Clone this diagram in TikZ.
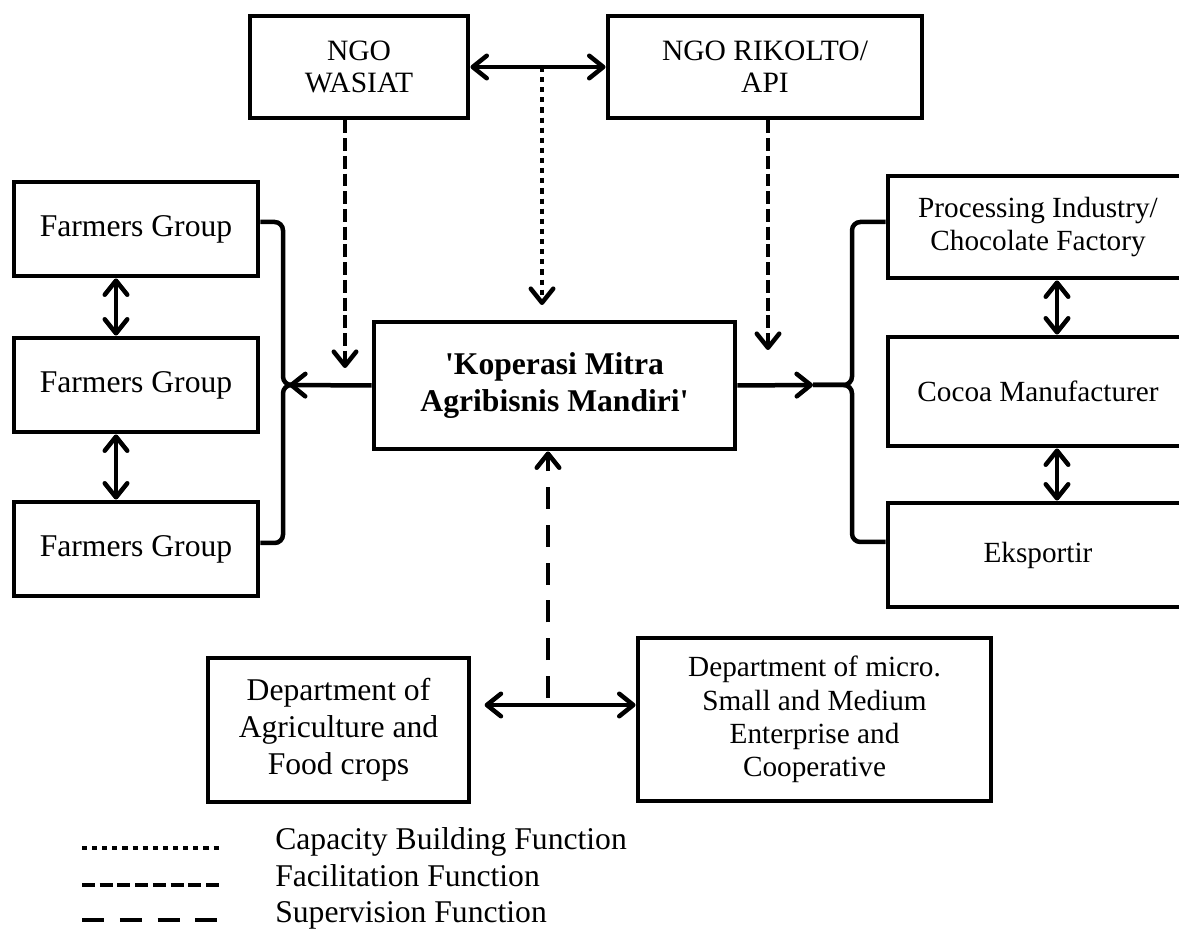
\documentclass[tikz,border=0pt]{standalone}
\usepackage{fontspec}
\setmainfont{Liberation Serif}[Ligatures=TeXOff]
\usetikzlibrary{arrows.meta,calc,positioning}
\newcommand{\bigtext}{\fontsize{22.5pt}{26.3pt}\selectfont}
\newcommand{\midtext}{\fontsize{21pt}{22.5pt}\selectfont}
\newcommand{\smalltext}{\fontsize{20.8pt}{24pt}\selectfont}
\tikzset{
  orgbox/.style={draw, line width=3.4pt, align=center, inner sep=0pt, font=\bigtext},
  ngobox/.style={orgbox, font=\midtext},
  sidebox/.style={orgbox, font=\smalltext},
  mainbox/.style={orgbox, font=\bigtext\bfseries},
  barb/.tip={Straight Barb[length=10pt, width=16pt, round]},
  link/.style={line width=3.2pt, -barb},
  bothlink/.style={line width=3.2pt, barb-barb},
  bracket/.style={line width=3.2pt, rounded corners=6pt},
  capacity/.style={dash pattern=on 3.6pt off 3.6pt},
  facilitation/.style={dash pattern=on 9.2pt off 3.4pt},
  supervision/.style={dash pattern=on 15.6pt off 11.3pt},
  legendtext/.style={font=\bigtext, inner sep=0pt, anchor=base west}
}
\begin{document}
\begin{tikzpicture}[x=0.025cm, y=-0.025cm]
  \useasboundingbox (0,0) rectangle (1179,931);
  % NGOs
  \node[ngobox, minimum width=5.45cm, minimum height=2.55cm] (wasiat) at (359,67) {NGO\\WASIAT};
  \node[ngobox, minimum width=7.85cm, minimum height=2.55cm] (rikolto) at (765,67) {NGO RIKOLTO/\\API};
  % cooperative
  \node[mainbox, minimum width=9.025cm, minimum height=3.175cm] (kmam) at (554.5,385.5) {'Koperasi Mitra\\Agribisnis Mandiri'};
  % farmers groups
  \node[orgbox, minimum width=6.1cm, minimum height=2.35cm] (fg1) at (136,229) {Farmers Group};
  \node[orgbox, minimum width=6.1cm, minimum height=2.35cm] (fg2) at (136,385) {Farmers Group};
  \node[orgbox, minimum width=6.1cm, minimum height=2.35cm] (fg3) at (136,549) {Farmers Group};
  % buyers
  \node[sidebox, minimum width=7.5cm, minimum height=2.55cm] (pi) at (1038,227) {Processing Industry/\\Chocolate Factory};
  \node[sidebox, minimum width=7.5cm, minimum height=2.725cm] (cm) at (1038,391.5) {Cocoa Manufacturer};
  \node[sidebox, minimum width=7.5cm, minimum height=2.6cm] (ex) at (1038,555) {Eksportir};
  % departments
  \node[orgbox, minimum width=6.525cm, minimum height=3.6cm] (dag) at (338.5,730) {Department of\\Agriculture and\\Food crops};
  \node[sidebox, minimum width=8.825cm, minimum height=4.075cm, font=\fontsize{20.8pt}{23.7pt}\selectfont] (dmi) at (814.5,719.5) {Department of micro.\\Small and Medium\\Enterprise and\\Cooperative};

  % free ends
  \coordinate (cbtop) at (542,67);
  \coordinate (cbtip) at (542,305);
  \coordinate (wftip) at (345,368);
  \coordinate (rftip) at (768,350);
  \coordinate (lbtip) at (289,385);
  \coordinate (rbtip) at (813,385);
  \coordinate (dline) at (548,705);

  % connectors
  \draw[bothlink] (wasiat.east) -- (rikolto.west);
  \draw[link, capacity] (cbtop) -- (cbtip);
  \draw[link, facilitation] (wasiat.south -| wftip) -- (wftip);
  \draw[link, facilitation] (rikolto.south -| rftip) -- (rftip);
  \draw[link] (kmam.west) -- (lbtip);
  \draw[link] (kmam.east) -- (rbtip);
  \draw[bothlink] ($(fg1.south)+(-20,0)$) -- ($(fg2.north)+(-20,0)$);
  \draw[bothlink] ($(fg2.south)+(-20,0)$) -- ($(fg3.north)+(-20,0)$);
  \draw[bothlink] ($(pi.south)+(19,0)$) -- ($(cm.north)+(19,0)$);
  \draw[bothlink] ($(cm.south)+(19,0)$) -- ($(ex.north)+(19,0)$);
  \draw[bothlink, shorten <=0.33cm] (dag.east |- dline) -- (dmi.west |- dline);
  \draw[link, supervision] ($(dline)+(0,-7)$) -- (kmam.south -| dline);

  % brackets
  \draw[bracket] ($(fg1.east)+(0,-7)$) -- (283,222) -- (283,385) -- (lbtip);
  \draw[bracket] ($(fg3.east)+(0,-6)$) -- (283,543) -- (283,385) -- (lbtip);
  \draw[bracket] ($(pi.west)+(0,-5)$) -- (852,222) -- (852,385) -- (rbtip);
  \draw[bracket] ($(ex.west)+(0,-13)$) -- (852,542) -- (852,385) -- (rbtip);

  % legend
  \node[legendtext] (lcap) at (275,849) {Capacity Building Function};
  \node[legendtext] (lfac) at (275,886) {Facilitation Function};
  \node[legendtext] (lsup) at (275,922) {Supervision Function};
  \draw[line width=3.4pt, capacity] (82,848) -- (223,848);
  \draw[line width=3.4pt, facilitation] (82,885) -- (223,885);
  \draw[line width=3.4pt, supervision] (82,920) -- (223,920);
\end{tikzpicture}
\end{document}
